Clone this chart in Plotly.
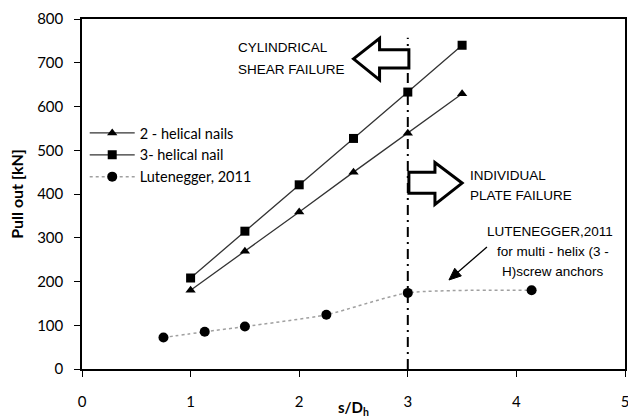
import plotly.graph_objects as go

# Data
x_nails = [1.0, 1.5, 2.0, 2.5, 3.0, 3.5]
y_2helical = [180, 269, 359, 450, 539, 629]
y_3helical = [208, 315, 421, 527, 633, 740]
x_lut = [0.75, 1.13, 1.5, 2.25, 3.0, 4.14]
y_lut = [72, 85, 97, 124, 174, 180]
x_ticks = [0, 1, 2, 3, 4, 5]
y_ticks = [0, 100, 200, 300, 400, 500, 600, 700, 800]
x_split = 3.0

# Annotation texts (line by line): (text, x, y, anchor)
note_lines = [
    ("CYLINDRICAL", 1.42, 734, "left"),
    ("SHEAR FAILURE", 1.42, 684, "left"),
    ("INDIVIDUAL", 3.55, 442, "left"),
    ("PLATE FAILURE", 3.55, 396, "left"),
    ("LUTENEGGER,2011", 4.31, 314, "center"),
    ("for multi - helix (3 -", 4.34, 268, "center"),
    ("H)screw anchors", 4.34, 224, "center"),
]

FONT = "Liberation Sans"
TICKFONT = "Lato"

fig = go.Figure()
fig.add_trace(go.Scatter(x=x_nails, y=y_2helical, mode="lines+markers", name="2 - helical nails",
                         line=dict(color="#333333", width=1.3),
                         marker=dict(symbol="triangle-up", size=9, color="black")))
fig.add_trace(go.Scatter(x=x_nails, y=y_3helical, mode="lines+markers", name="3- helical nail",
                         line=dict(color="#333333", width=1.3),
                         marker=dict(symbol="square", size=9, color="black")))
fig.add_trace(go.Scatter(x=x_lut, y=y_lut, mode="lines+markers", name="Lutenegger, 2011",
                         line=dict(color="#a0a0a0", width=1.5, dash="dot", shape="spline", smoothing=0.6),
                         marker=dict(symbol="circle", size=10, color="black")))

# vertical dash-dot divider
fig.add_shape(type="line", x0=x_split, x1=x_split, y0=0, y1=757, xref="x", yref="y",
              line=dict(color="black", width=2, dash="10px,5px,2px,5px"))

# left-pointing outline arrow
fig.add_shape(type="path", xref="x", yref="y",
              path="M 2.50 709 L 2.74 756 L 2.74 730 L 3.01 730 L 3.01 688 L 2.74 688 L 2.74 661 Z",
              line=dict(color="black", width=3), fillcolor="white")
# right-pointing outline arrow
fig.add_shape(type="path", xref="x", yref="y",
              path="M 3.50 425 L 3.25 472 L 3.25 450 L 3.01 450 L 3.01 402 L 3.25 402 L 3.25 376 Z",
              line=dict(color="black", width=3), fillcolor="white")

# pointer arrow to Lutenegger curve
fig.add_shape(type="line", xref="x", yref="y", x0=3.729, y0=278.9, x1=3.463, y1=221.5,
              line=dict(color="black", width=1.3))
fig.add_shape(type="path", xref="x", yref="y",
              path="M 3.379 203.4 L 3.493 212.8 L 3.432 230.2 Z",
              line=dict(color="black", width=1), fillcolor="black")

for txt, tx, ty, anc in note_lines:
    fig.add_annotation(x=tx, y=ty, xref="x", yref="y", text=txt, showarrow=False,
                       xanchor=anc, yanchor="middle",
                       font=dict(family=FONT, size=13.5, color="black"))

fig.update_layout(
    width=628, height=418,
    margin=dict(l=82, r=3, t=19, b=49),
    paper_bgcolor="white", plot_bgcolor="white",
    showlegend=True,
    legend=dict(x=0.005, y=0.72, xanchor="left", yanchor="top", bgcolor="rgba(0,0,0,0)",
                font=dict(family=TICKFONT, size=14.5, color="black"), tracegroupgap=0, itemwidth=45),
    font=dict(family=TICKFONT, color="black"),
)
fig.update_xaxes(range=[0, 5], tickvals=x_ticks, ticks="outside", ticklen=6, tickcolor="black",
                 showline=True, linecolor="black", linewidth=1.5, mirror=True, showgrid=False,
                 zeroline=False, tickfont=dict(family=TICKFONT, size=15, color="black"),
                 ticklabelstandoff=12, automargin=False, ticklabeloverflow="allow",
                 title=dict(text="<b>s/D<sub>h</sub></b>", font=dict(family=TICKFONT, size=15), standoff=5))
fig.update_yaxes(range=[0, 800], tickvals=y_ticks, ticks="outside", ticklen=6, tickcolor="black",
                 showline=True, linecolor="black", linewidth=1.5, mirror=True, showgrid=False,
                 zeroline=False, tickfont=dict(family=TICKFONT, size=15, color="black"),
                 ticklabelstandoff=8, automargin=False,
                 title=dict(text="<b>Pull out [kN]</b>", font=dict(family=TICKFONT, size=16), standoff=10))

fig.write_html("out.html")
